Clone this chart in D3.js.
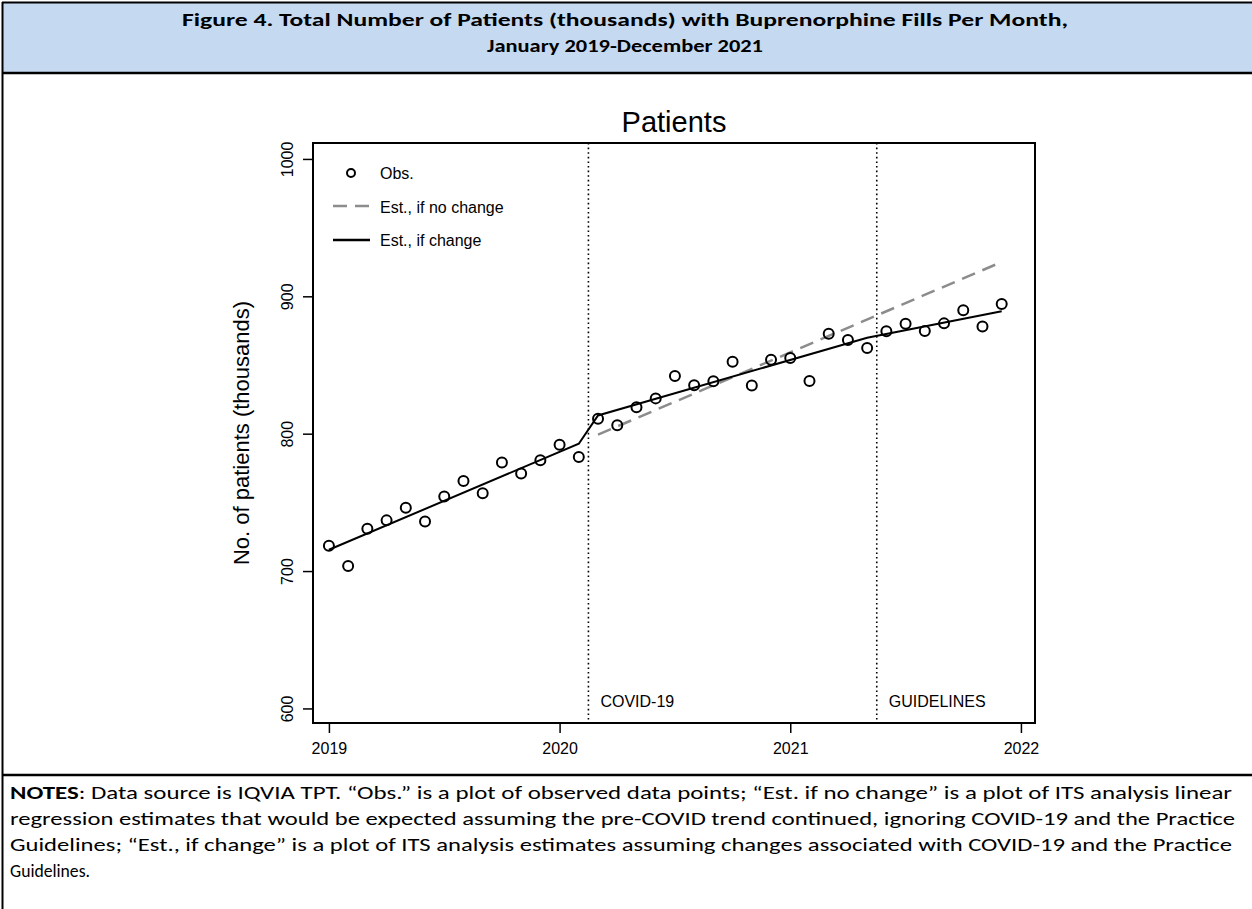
<!DOCTYPE html>
<html>
<head>
<meta charset="utf-8">
<script src="https://d3js.org/d3.v7.min.js"></script>
<style>
    body { margin: 0; background: #fff; }
    .axis text { font-family: "Liberation Sans", Arial, sans-serif; font-size: 16px; fill: #000; }
    .axis path, .axis line { stroke: #000; stroke-width: 1.5px; }
    .calibri { font-family: Carlito, "Liberation Sans Narrow", "Open Sans", sans-serif; }
</style>
</head>
<body>
<svg id="chart" width="1252" height="909"></svg>
<script>
    // month index 0 = Jan 2019 ... 35 = Dec 2021
    var months = d3.range(36);
    var observed = [718.4, 703.6, 730.8, 736.9, 746.1, 736.1, 754.3, 765.5, 756.7, 779.1, 771.1, 780.6,
                    792.0, 783.0, 810.8, 806.2, 819.2, 825.7, 842.0, 835.2, 838.1, 852.4, 835.0, 853.9,
                    855.1, 838.3, 872.8, 868.2, 862.3, 874.5, 880.1, 874.7, 880.3, 889.8, 878.1, 894.4];
    // estimated lines, given at their break points (month index, value)
    var estChange = [[0, 715.5], [13, 792.7], [14, 813.3], [28, 869.8], [35, 889.2]];
    var estNoChange = [[14, 799.3], [35, 925.0]];
    var events = [{month: 13.5, label: "COVID-19"}, {month: 28.5, label: "GUIDELINES"}];
    var yTicks = [600, 700, 800, 900, 1000];
    var xTicks = [2019, 2020, 2021, 2022];

    var titleLines = ["Figure 4. Total Number of Patients (thousands) with Buprenorphine Fills Per Month,",
                      "January 2019-December 2021"];
    var noteLines = [
        "Data source is IQVIA TPT. \u201cObs.\u201d  is a plot of observed data points; \u201cEst. if no change\u201d is a plot of ITS analysis linear",
        "regression estimates that would be expected assuming the pre-COVID trend continued, ignoring COVID-19 and the Practice",
        "Guidelines; \u201cEst., if change\u201d is a plot of ITS analysis estimates assuming changes associated with COVID-19 and the Practice",
        "Guidelines."
    ];

    var svg = d3.select("#chart");

    // frame of the figure
    svg.append("rect").attr("x", 3).attr("y", 3).attr("width", 1260).attr("height", 70)
        .attr("fill", "#c5d9f1");
    svg.append("line").attr("x1", 2).attr("x2", 1252).attr("y1", 2.5).attr("y2", 2.5)
        .attr("stroke", "#000").attr("stroke-width", 2);
    svg.append("line").attr("x1", 2).attr("x2", 1252).attr("y1", 73).attr("y2", 73)
        .attr("stroke", "#000").attr("stroke-width", 2.5);
    svg.append("line").attr("x1", 2).attr("x2", 1252).attr("y1", 775).attr("y2", 775)
        .attr("stroke", "#000").attr("stroke-width", 2.5);
    svg.append("line").attr("x1", 2.5).attr("x2", 2.5).attr("y1", 2).attr("y2", 909)
        .attr("stroke", "#000").attr("stroke-width", 2);

    // header title
    var titleWidths = [886, 276];
    svg.selectAll(".ftitle").data(titleLines).enter().append("text")
        .attr("class", "ftitle calibri")
        .attr("x", 625)
        .attr("y", function (d, i) { return 26 + i * 26; })
        .attr("text-anchor", "middle")
        .attr("font-weight", "bold")
        .attr("font-size", 18)
        .attr("textLength", function (d, i) { return titleWidths[i]; })
        .attr("lengthAdjust", "spacingAndGlyphs")
        .text(function (d) { return d; });

    // notes
    var noteWidths = [1222, 1225, 1222, 80];
    noteLines.forEach(function (line, i) {
        var t = svg.append("text")
            .attr("class", "calibri")
            .attr("x", 10)
            .attr("y", 799 + i * 26)
            .attr("font-size", 18)
            .attr("textLength", noteWidths[i])
            .attr("lengthAdjust", "spacingAndGlyphs");
        if (i === 0) {
            t.append("tspan").attr("font-weight", "bold").text("NOTES");
            t.append("tspan").text(":  " + line);
        } else {
            t.text(line);
        }
    });

    // plot
    var plotL = 313, plotR = 1035, plotT = 143, plotB = 723;
    var x = d3.scaleLinear().domain([2018.931, 2022.061]).range([plotL, plotR]);
    var y = d3.scaleLinear().domain([589.4, 1011.6]).range([plotB, plotT]);
    var mx = function (m) { return x(2019 + m / 12); };

    svg.append("text")
        .attr("x", (plotL + plotR) / 2)
        .attr("y", 132)
        .attr("text-anchor", "middle")
        .attr("font-family", "Liberation Sans, Arial, sans-serif")
        .attr("font-size", 29)
        .text("Patients");

    svg.append("text")
        .attr("transform", "translate(249," + (plotT + plotB) / 2 + ") rotate(-90)")
        .attr("text-anchor", "middle")
        .attr("font-family", "Liberation Sans, Arial, sans-serif")
        .attr("font-size", 22)
        .text("No. of patients (thousands)");

    var yAxis = svg.append("g").attr("class", "axis")
        .attr("transform", "translate(" + plotL + ",0)")
        .call(d3.axisLeft(y).tickValues(yTicks).tickFormat(d3.format("d")).tickSize(10).tickSizeOuter(0));
    yAxis.select(".domain").remove();
    yAxis.selectAll(".tick text")
        .attr("x", 0)
        .attr("transform", "translate(-20,0) rotate(-90)")
        .attr("text-anchor", "middle")
        .attr("dy", "0em");

    var xAxis = svg.append("g").attr("class", "axis")
        .attr("transform", "translate(0," + plotB + ")")
        .call(d3.axisBottom(x).tickValues(xTicks).tickFormat(d3.format("d")).tickSize(10).tickSizeOuter(0));
    xAxis.select(".domain").remove();
    xAxis.selectAll(".tick text").attr("y", 20);

    svg.append("rect")
        .attr("x", plotL).attr("y", plotT)
        .attr("width", plotR - plotL).attr("height", plotB - plotT)
        .attr("fill", "none").attr("stroke", "#000").attr("stroke-width", 2);

    // event markers
    svg.selectAll(".event").data(events).enter().append("line")
        .attr("x1", function (d) { return mx(d.month); })
        .attr("x2", function (d) { return mx(d.month); })
        .attr("y1", plotT).attr("y2", plotB)
        .attr("stroke", "#000").attr("stroke-width", 1.6)
        .attr("stroke-dasharray", "1.6,3");
    svg.selectAll(".eventLabel").data(events).enter().append("text")
        .attr("x", function (d) { return mx(d.month) + 12; })
        .attr("y", 707)
        .attr("font-family", "Liberation Sans, Arial, sans-serif")
        .attr("font-size", 16)
        .text(function (d) { return d.label; });

    var line = d3.line()
        .x(function (d) { return mx(d[0]); })
        .y(function (d) { return y(d[1]); });

    svg.append("path").datum(estNoChange)
        .attr("d", line)
        .attr("fill", "none").attr("stroke", "#8c8c8c").attr("stroke-width", 2.5)
        .attr("stroke-dasharray", "14,8");

    svg.append("path").datum(estChange)
        .attr("d", line)
        .attr("fill", "none").attr("stroke", "#000").attr("stroke-width", 2);

    svg.selectAll(".obs").data(months).enter().append("circle")
        .attr("class", "obs")
        .attr("cx", function (m) { return mx(m); })
        .attr("cy", function (m) { return y(observed[m]); })
        .attr("r", 5)
        .attr("fill", "none").attr("stroke", "#000").attr("stroke-width", 2);

    // legend
    var legend = svg.append("g").attr("transform", "translate(333,173)");
    legend.append("circle").attr("cx", 18).attr("cy", 0).attr("r", 4)
        .attr("fill", "none").attr("stroke", "#000").attr("stroke-width", 2);
    legend.append("line").attr("x1", 0).attr("x2", 37).attr("y1", 33).attr("y2", 33)
        .attr("stroke", "#8c8c8c").attr("stroke-width", 2.5).attr("stroke-dasharray", "14,8");
    legend.append("line").attr("x1", 0).attr("x2", 37).attr("y1", 67).attr("y2", 67)
        .attr("stroke", "#000").attr("stroke-width", 2.5);
    legend.selectAll("text").data(["Obs.", "Est., if no change", "Est., if change"]).enter()
        .append("text")
        .attr("x", 47)
        .attr("y", function (d, i) { return i * 33.5 + 6; })
        .attr("font-family", "Liberation Sans, Arial, sans-serif")
        .attr("font-size", 16)
        .text(function (d) { return d; });
</script>
</body>
</html>
